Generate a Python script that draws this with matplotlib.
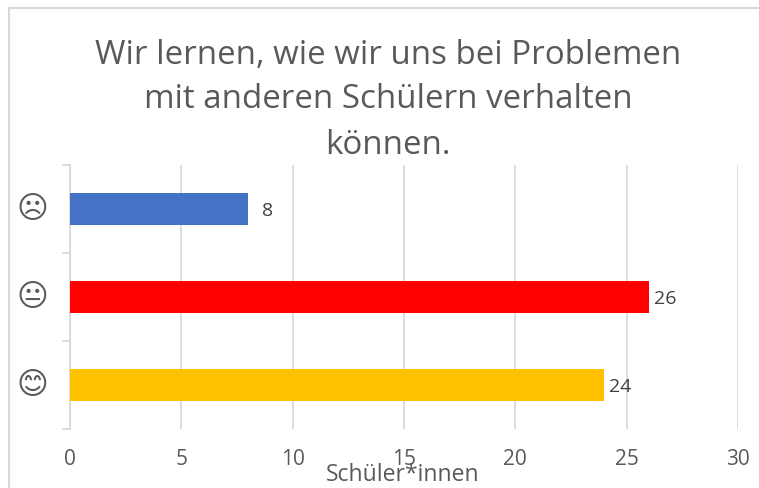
import matplotlib
matplotlib.use("Agg")
import matplotlib.pyplot as plt
from matplotlib.patches import Rectangle

categories = ["\U0001F60A", "\U0001F610", "\u2639"]
values = [24, 26, 8]
colors = ["#FFC000", "#FF0000", "#4472C4"]
xticks = [0, 5, 10, 15, 20, 25, 30]
title_lines = ["Wir lernen, wie wir uns bei Problemen", "mit anderen Schülern verhalten", "können."]
xlabel = "Schüler*innen"

W, H = 759, 489
plt.rcParams['font.family'] = ['Open Sans', 'DejaVu Sans']
fig = plt.figure(figsize=(W/100, H/100), dpi=100, facecolor="white")
L, R, T, B = 70, 738, 165.6, 429.6
ax = fig.add_axes([L/W, 1-B/H, (R-L)/W, (B-T)/H])
ax.set_xlim(0, 30)
ax.set_ylim(-0.5, 2.5)
pos = list(range(len(values)))
ax.barh(pos, values, height=0.365, color=colors, zorder=3)
ax.set_xticks(xticks)
ax.set_xticklabels([str(t) for t in xticks], fontsize=15, color="#595959")
ax.set_yticks([])
ax.grid(axis="x", color="#D9D9D9", lw=1.3, zorder=0)
for s in ["top", "right", "bottom"]:
    ax.spines[s].set_visible(False)
ax.spines["left"].set_color("#D9D9D9")
ax.spines["left"].set_linewidth(1.3)
ax.tick_params(axis="x", length=0, pad=14)
# category separator ticks
ax.set_yticks([-0.5, 0.5, 1.5, 2.5], minor=True)
ax.tick_params(axis="y", which="minor", length=6, color="#D9D9D9", width=1.3)
ax.tick_params(axis="y", which="major", length=0)

for p, v, c in zip(pos, values, categories):
    off = 14 if v == 8 else 5
    ax.annotate(str(v), (v, p), xytext=(off*0.72, -1), textcoords="offset points",
                va="center", ha="left", fontsize=14, color="#404040", zorder=4)
    ax.annotate(c, (0, p), xytext=(-38*0.72, 0), textcoords="offset points",
                va="center", ha="center", fontsize=22, color="#595959",
                annotation_clip=False, family=['DejaVu Sans'])

for line, y in zip(title_lines, [55, 100, 145]):
    fig.text(388/W, 1-y/H, line, ha="center", va="center", fontsize=23.8, color="#595959")
fig.text(403/W, 1-475/H, xlabel, ha="center", va="center", fontsize=16.5, color="#595959")

# outer chart frame
fig.add_artist(Rectangle((9/W, -0.02), (W+20)/W, 1+0.02-9/H, transform=fig.transFigure,
                         fill=False, ec="#D9D9D9", lw=1.5))
fig.savefig("out.png", dpi=100)
